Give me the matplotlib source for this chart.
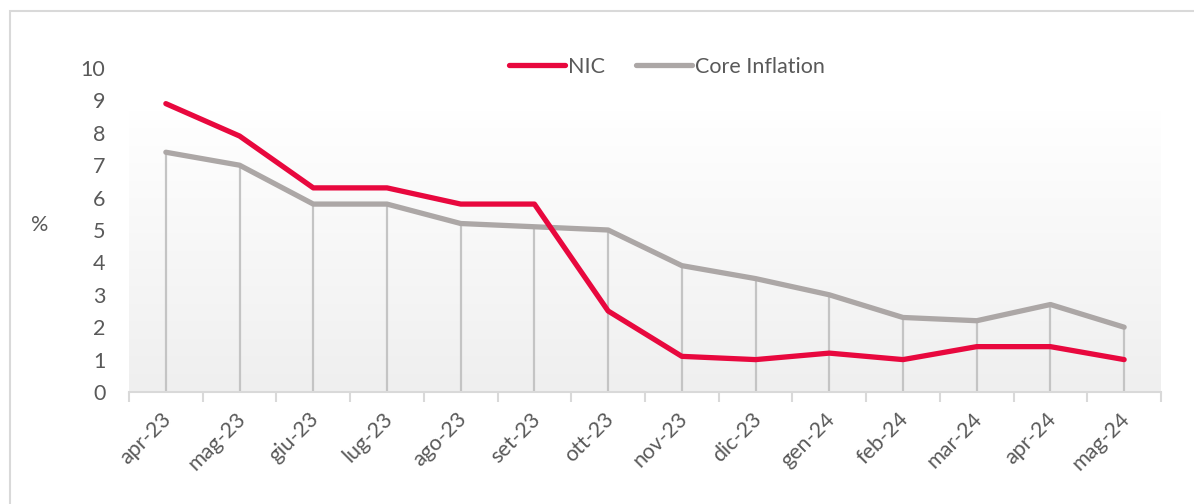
import numpy as np
import matplotlib
matplotlib.use("Agg")
import matplotlib.pyplot as plt
from matplotlib.patches import Rectangle
from matplotlib.colors import LinearSegmentedColormap

months = ["apr-23", "mag-23", "giu-23", "lug-23", "ago-23", "set-23", "ott-23",
          "nov-23", "dic-23", "gen-24", "feb-24", "mar-24", "apr-24", "mag-24"]
nic = [8.9, 7.9, 6.3, 6.3, 5.8, 5.8, 2.5, 1.1, 1.0, 1.2, 1.0, 1.4, 1.4, 1.0]
core = [7.4, 7.0, 5.8, 5.8, 5.2, 5.1, 5.0, 3.9, 3.5, 3.0, 2.3, 2.2, 2.7, 2.0]
yticks = list(range(0, 11))

plt.rcParams['font.family'] = ['Lato', 'DejaVu Sans']

W, H = 1194, 504
fig = plt.figure(figsize=(W / 100, H / 100), dpi=100)
fig.patch.set_facecolor("white")

# outer border (top and left visible)
fig.patches.append(Rectangle((10 / W, -0.1), 1.2, (H - 11) / H + 0.1, transform=fig.transFigure,
                             fill=False, edgecolor="#d9d9d9", linewidth=1.5))

ax = fig.add_axes([129 / W, 112 / H, (1161 - 129) / W, (392 - 68) / H])
ax.set_facecolor("none")
x = np.arange(len(months))
ax.set_xlim(-0.5, len(months) - 0.5)
ax.set_ylim(0, 10)

# gradient plot background
grad = np.linspace(0, 1, 256).reshape(-1, 1)
cmap = LinearSegmentedColormap.from_list("g", ["#efefef", "#ffffff"])
ax.imshow(grad, extent=[-0.5, len(months) - 0.5, 0, 8.7], origin="lower", aspect="auto",
          cmap=cmap, zorder=0)

# drop lines
ax.vlines(x, 0, core, colors="#c4c4c4", linewidth=1.6, zorder=1)

ax.plot(x, nic, color="#e8083e", linewidth=3.8, solid_capstyle="round",
        solid_joinstyle="round", label="NIC", zorder=3)
ax.plot(x, core, color="#aca7a6", linewidth=3.8, solid_capstyle="round",
        solid_joinstyle="round", label="Core Inflation", zorder=2)

for s in ["top", "right", "left"]:
    ax.spines[s].set_visible(False)
ax.spines["bottom"].set_color("#d9d9d9")
ax.spines["bottom"].set_linewidth(1.5)

ax.set_yticks(yticks)
ax.set_yticklabels([str(v) for v in yticks], fontsize=15.5, color="#595959")
ax.tick_params(axis="y", length=0, pad=17)

ax.set_xticks(np.arange(-0.5, len(months), 1.0))
ax.set_xticklabels([])
ax.tick_params(axis="x", length=7, width=1.5, color="#d9d9d9", direction="out")
for i, m in enumerate(months):
    ax.text(i - 0.06, -0.52, m, rotation=45, ha="right", va="top", rotation_mode="anchor",
            fontsize=15.5, color="#595959", transform=ax.transData)

fig.text(40 / W, 1 - 225 / H, "%", fontsize=15.5, color="#595959", ha="center", va="center")

leg = ax.legend(loc="center", bbox_to_anchor=(667 / W, 1 - 67 / H), bbox_transform=fig.transFigure,
                ncol=2, frameon=False, fontsize=15.5, handlelength=2.6, handletextpad=0.15,
                columnspacing=1.4)
for t in leg.get_texts():
    t.set_color("#595959")

fig.savefig("out.png", dpi=100, facecolor="white")
